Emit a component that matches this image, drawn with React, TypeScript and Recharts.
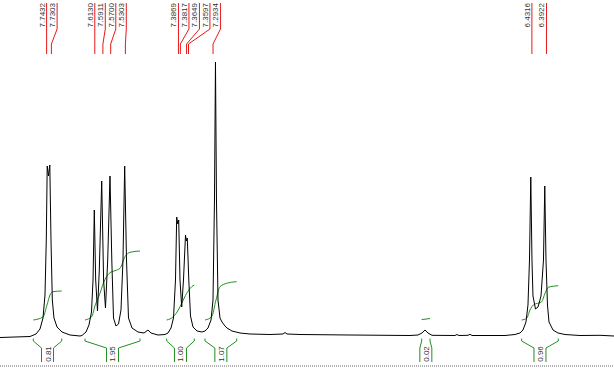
import React from "react";
import { ComposedChart, Line, Scatter, XAxis, YAxis } from "recharts";

// visible chemical shift window (ppm); the left edge is the high value
const PPM_LEFT = 7.8692;
const PPM_RIGHT = 6.2097;
const W = 614;
const H = 371;

// 1H trace: [ppm, intensity]
const spectrum: [number, number][] = [
  [7.8692, -1.5], [7.7881, -0.5], [7.7719, 2], [7.7611, 7], [7.753, 18], [7.7476, 41], [7.7441, 96],
  [7.7416, 170], [7.7381, 160], [7.7346, 171], [7.7314, 96], [7.7278, 36], [7.7233, 18], [7.7151, 9],
  [7.7016, 4], [7.68, 1], [7.653, 0],
  [7.6476, 0.5], [7.6368, 4], [7.6287, 11], [7.6219, 24], [7.6178, 56], [7.6143, 126], [7.6106, 56],
  [7.6057, 25], [7.6008, 66], [7.5943, 155], [7.5892, 56], [7.5841, 28], [7.5781, 76], [7.5719, 160],
  [7.567, 76], [7.5624, 18], [7.5557, 10], [7.5489, 12], [7.5422, 26], [7.5368, 76], [7.5322, 170],
  [7.5273, 76], [7.5219, 18], [7.5124, 8], [7.4962, 4], [7.48, 3], [7.4692, 6], [7.4611, 3],
  [7.4422, 1], [7.4233, 1.5],
  [7.4151, 3], [7.407, 8], [7.4003, 18], [7.3949, 56], [7.3916, 119], [7.3889, 112], [7.3862, 116],
  [7.3827, 56], [7.3781, 29], [7.3733, 56], [7.3678, 101], [7.3657, 95], [7.363, 98], [7.3589, 56],
  [7.3543, 20], [7.3476, 9], [7.3368, 5], [7.3233, 4],
  [7.3151, 5], [7.307, 8], [7.2989, 16], [7.2935, 36], [7.2895, 136], [7.2868, 274], [7.2841, 136],
  [7.28, 36], [7.2746, 18], [7.2692, 14], [7.2611, 10], [7.2557, 8], [7.2422, 5], [7.2206, 3],
  [7.1935, 2], [7.1395, 1.5], [7.1043, 2], [7.0989, 3.5], [7.0935, 2], [7.0584, 1.5], [6.9233, 1],
  [6.7611, 0.5], [6.7395, 1], [6.7287, 3], [6.7206, 6], [6.7124, 3], [6.7016, 0.7], [6.6395, 0.5],
  [6.6341, 1.5], [6.6287, 0.5], [6.6043, 0.7], [6.5989, 1.7], [6.5935, 0.5], [6.5043, 0.5],
  [6.4773, 1.5], [6.4638, 3], [6.4557, 6], [6.4476, 14], [6.4422, 31], [6.4381, 76], [6.4346, 159],
  [6.4314, 76], [6.4287, 40], [6.4219, 27], [6.4151, 29], [6.407, 40], [6.4003, 76], [6.3968, 150],
  [6.3935, 76], [6.3895, 31], [6.3854, 14], [6.3746, 6], [6.3611, 3], [6.3422, 1.5], [6.3016, 0.5],
  [6.2476, 0.7], [6.2097, 0],
];

// picked peaks, one list per cluster (high ppm first)
const peakGroups: number[][] = [
  [7.7432, 7.7303],
  [7.613, 7.5911, 7.57, 7.5303],
  [7.3869, 7.3817, 7.3649, 7.3597, 7.2934],
  [6.4316, 6.3922],
];

// integral curves: [ppm, running integral]
const integrals: [number, number][][] = [
  [[7.7792, 16], [7.753, 19], [7.7422, 31], [7.7341, 41], [7.726, 44.3], [7.7024, 45]],
  [[7.6395, 16], [7.6214, 19.3], [7.6124, 30.3], [7.5989, 42.7], [7.59, 52.7], [7.5719, 63.3],
   [7.5584, 65.3], [7.5449, 67.7], [7.5314, 79.3], [7.5178, 83.7], [7.4908, 85]],
  [[7.4187, 16], [7.4008, 19.3], [7.3873, 26], [7.3781, 32.7], [7.3646, 42.7], [7.3511, 49.3], [7.3441, 51]],
  [[7.3151, 16], [7.297, 19.3], [7.2854, 36], [7.2746, 49.3], [7.2565, 52.7], [7.2295, 54.3]],
  [[6.7295, 16.5], [6.7206, 16.8], [6.707, 17.5]],
  [[6.4592, 16], [6.4457, 17.7], [6.4368, 26], [6.4278, 31], [6.4051, 34.3], [6.3962, 42.7],
   [6.3873, 48.7], [6.3603, 50.3]],
];
const integralValues = ["0.81", "1.95", "1.00", "1.07", "0.02", "0.96"];

const majorTicks = [
  7.85, 7.8, 7.75, 7.7, 7.65, 7.6, 7.55, 7.5, 7.45, 7.4, 7.35, 7.3, 7.25, 7.2, 7.15, 7.1, 7.05,
  7.0, 6.95, 6.9, 6.85, 6.8, 6.75, 6.7, 6.65, 6.6, 6.55, 6.5, 6.45, 6.4, 6.35, 6.3, 6.25,
];

const RED = "#e81818";
const GREEN = "#1e901e";
const FONT = "'Liberation Sans', Arial, sans-serif";

const pxToPpm = (px: number) => (px * (PPM_LEFT - PPM_RIGHT)) / W;

export default function App() {
  const trace = spectrum.map(([ppm, v]) => ({ ppm, v }));

  // spread the peak labels so they don't collide, leader lines kink back to the peak
  const leaders = peakGroups.flatMap((group) => {
    let prev = Infinity;
    return group.map((ppm) => {
      const at = Math.min(ppm, prev - pxToPpm(10.5));
      prev = at;
      return { ppm, at };
    });
  });

  const gap = pxToPpm(6);
  const brackets = integrals.map((pts, i) => {
    const a = pts[0][0];
    const b = pts[pts.length - 1][0];
    const c = (a + b) / 2;
    return {
      c,
      text: integralValues[i],
      left: [
        { ppm: a, v: -2.5 }, { ppm: a, v: -5 }, { ppm: c + gap, v: -12 }, { ppm: c + gap, v: -26 },
      ],
      right: [
        { ppm: b, v: -2.5 }, { ppm: b, v: -5 }, { ppm: c - gap, v: -12 }, { ppm: c - gap, v: -26 },
      ],
    };
  });

  const plain = {
    dataKey: "v",
    type: "linear" as const,
    strokeWidth: 1,
    dot: false,
    activeDot: false,
    legendType: "none" as const,
    isAnimationActive: false,
  };

  return (
    <div style={{ position: "absolute", left: 0, top: 0, width: W, height: H, background: "#fff" }}>
      <ComposedChart width={W} height={H} margin={{ top: 0, right: 0, bottom: 0, left: 0 }}>
        <XAxis
          type="number"
          dataKey="ppm"
          domain={[PPM_RIGHT, PPM_LEFT]}
          reversed
          allowDataOverflow
          ticks={majorTicks}
          height={5}
          tick={false}
          tickSize={3}
          tickLine={{ stroke: "#555" }}
          axisLine={{ stroke: "#666", strokeDasharray: "1 1" }}
        />
        <YAxis type="number" dataKey="v" domain={[-30, 336]} allowDataOverflow hide />

        {leaders.map((l, i) => (
          <Line
            key={"ld" + i}
            {...plain}
            data={[
              { ppm: l.at, v: 333 },
              { ppm: l.at, v: 307 },
              { ppm: l.ppm, v: 292 },
              { ppm: l.ppm, v: 282 },
            ]}
            stroke={RED}
          />
        ))}
        <Scatter
          data={leaders.map((l) => ({ ppm: l.at, v: 333, text: l.ppm.toFixed(4) }))}
          dataKey="v"
          legendType="none"
          isAnimationActive={false}
          shape={(p: any) => (
            <text
              transform={`translate(${p.cx - 2},${p.cy}) rotate(-90)`}
              textAnchor="end"
              fontSize={8}
              fontFamily={FONT}
              fill="#333"
            >
              {p.payload.text}
            </text>
          )}
        />

        {integrals.map((pts, i) => (
          <Line
            key={"int" + i}
            {...plain}
            type="monotone"
            data={pts.map(([ppm, v]) => ({ ppm, v }))}
            stroke={GREEN}
          />
        ))}
        {brackets.map((b, i) => (
          <Line key={"bl" + i} {...plain} data={b.left} stroke={GREEN} />
        ))}
        {brackets.map((b, i) => (
          <Line key={"br" + i} {...plain} data={b.right} stroke={GREEN} />
        ))}
        <Scatter
          data={brackets.map((b) => ({ ppm: b.c, v: -18, text: b.text }))}
          dataKey="v"
          legendType="none"
          isAnimationActive={false}
          shape={(p: any) => (
            <text
              transform={`translate(${p.cx + 3},${p.cy}) rotate(-90)`}
              textAnchor="middle"
              fontSize={8}
              fontFamily={FONT}
              fill="#333"
            >
              {p.payload.text}
            </text>
          )}
        />

        <Line {...plain} data={trace} stroke="#000" />
      </ComposedChart>
    </div>
  );
}
